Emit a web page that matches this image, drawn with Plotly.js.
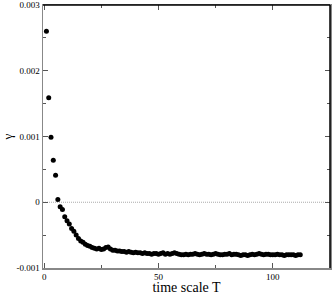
<!DOCTYPE html>
<html><head><meta charset="utf-8">
<script src="https://cdn.plot.ly/plotly-3.0.1.min.js"></script>
<style>body{margin:0;padding:0;background:#fff}#c{width:332px;height:295px}</style>
</head><body><div id="c"></div>
<script>
const T = [];
for (let i = 1; i <= 112; i++) T.push(i);
const gamma = [
 0.00260, 0.00159, 0.00099, 0.00064, 0.00041, 0.00004, -0.00007, -0.00011, -0.00022, -0.00028,
 -0.00033, -0.00040, -0.00044, -0.00050, -0.00055, -0.00059, -0.00061, -0.00064, -0.00066, -0.00067,
 -0.00069, -0.00070, -0.00071, -0.00070, -0.00072, -0.00071, -0.00069, -0.00068, -0.00071, -0.00073,
 -0.00073, -0.00074, -0.00074, -0.00075, -0.00075, -0.00076, -0.00075, -0.00076, -0.00077, -0.00076,
 -0.00077, -0.00077, -0.00078, -0.00077, -0.00078, -0.00078, -0.00079, -0.00078, -0.00078, -0.00079,
 -0.00078, -0.00077, -0.00079, -0.00078, -0.00079, -0.00078, -0.00077, -0.00078, -0.00079, -0.00080,
 -0.00080, -0.00079, -0.00080, -0.00079, -0.00079, -0.00078, -0.00079, -0.00080, -0.00079, -0.00078,
 -0.00079, -0.00079, -0.00080, -0.00079, -0.00078, -0.00079, -0.00080, -0.00080, -0.00079, -0.00079,
 -0.00078, -0.00080, -0.00079, -0.00079, -0.00080, -0.00081, -0.00080, -0.00080, -0.00081, -0.00080,
 -0.00079, -0.00080, -0.00079, -0.00078, -0.00079, -0.00080, -0.00079, -0.00079, -0.00080, -0.00080,
 -0.00080, -0.00079, -0.00080, -0.00080, -0.00081, -0.00080, -0.00080, -0.00080, -0.00080, -0.00081,
 -0.00080, -0.00080
];
const xTickVals = [0, 50, 100];
const xTickText = ["0", "50", "100"];
const yTickVals = [-0.001, 0, 0.001, 0.002, 0.003];
const yTickText = ["-0.001", "0", "0.001", "0.002", "0.003"];

const font = {family: '"Liberation Serif", "DejaVu Serif", serif', color: '#000'};
Plotly.newPlot('c', [{
  x: T, y: gamma, type: 'scatter', mode: 'markers',
  marker: {color: '#000', size: 5}
}], {
  width: 332, height: 295,
  margin: {l: 43, r: 2, t: 5, b: 27},
  paper_bgcolor: '#fff', plot_bgcolor: '#fff',
  font: Object.assign({size: 9}, font),
  showlegend: false,
  xaxis: {
    range: [-0.5, 125], showgrid: false, zeroline: false,
    showline: true, linecolor: '#888', linewidth: 1.5, mirror: 'allticks',
    ticks: 'inside', ticklen: 5, tickcolor: '#555',
    tickvals: xTickVals, ticktext: xTickText,
    ticklabeloverflow: 'allow',
    minor: {ticks: 'inside', ticklen: 3, dtick: 25, tick0: 0, tickcolor: '#555', showgrid: false},
    tickfont: Object.assign({size: 9}, font),
    title: {text: 'time scale T', font: Object.assign({size: 14}, font), standoff: 2}
  },
  yaxis: {
    range: [-0.0010004, 0.0030004], showgrid: false, zeroline: false,
    showline: true, linecolor: '#888', linewidth: 1.5, mirror: 'allticks',
    ticks: 'inside', ticklen: 5, tickcolor: '#555',
    tickvals: yTickVals, ticktext: yTickText,
    ticklabeloverflow: 'allow',
    minor: {ticks: 'inside', ticklen: 3, dtick: 0.0005, tick0: 0, tickcolor: '#555', showgrid: false},
    tickfont: Object.assign({size: 9}, font),
    title: {text: 'γ', font: Object.assign({size: 13}, font), standoff: 8}
  },
  shapes: [
    {type: 'line', xref: 'paper', x0: 0, x1: 1, yref: 'y', y0: 0, y1: 0,
     line: {color: '#aaa', width: 1, dash: '1px,1px'}, layer: 'below'},
    {type: 'line', xref: 'paper', x0: 0, x1: 1, yref: 'paper', y0: 1, y1: 1,
     line: {color: '#000', width: 1.5}},
    {type: 'line', xref: 'paper', x0: 1, x1: 1, yref: 'paper', y0: 0, y1: 1,
     line: {color: '#000', width: 1.5}}
  ]
}, {displayModeBar: false, staticPlot: true});
</script></body></html>
